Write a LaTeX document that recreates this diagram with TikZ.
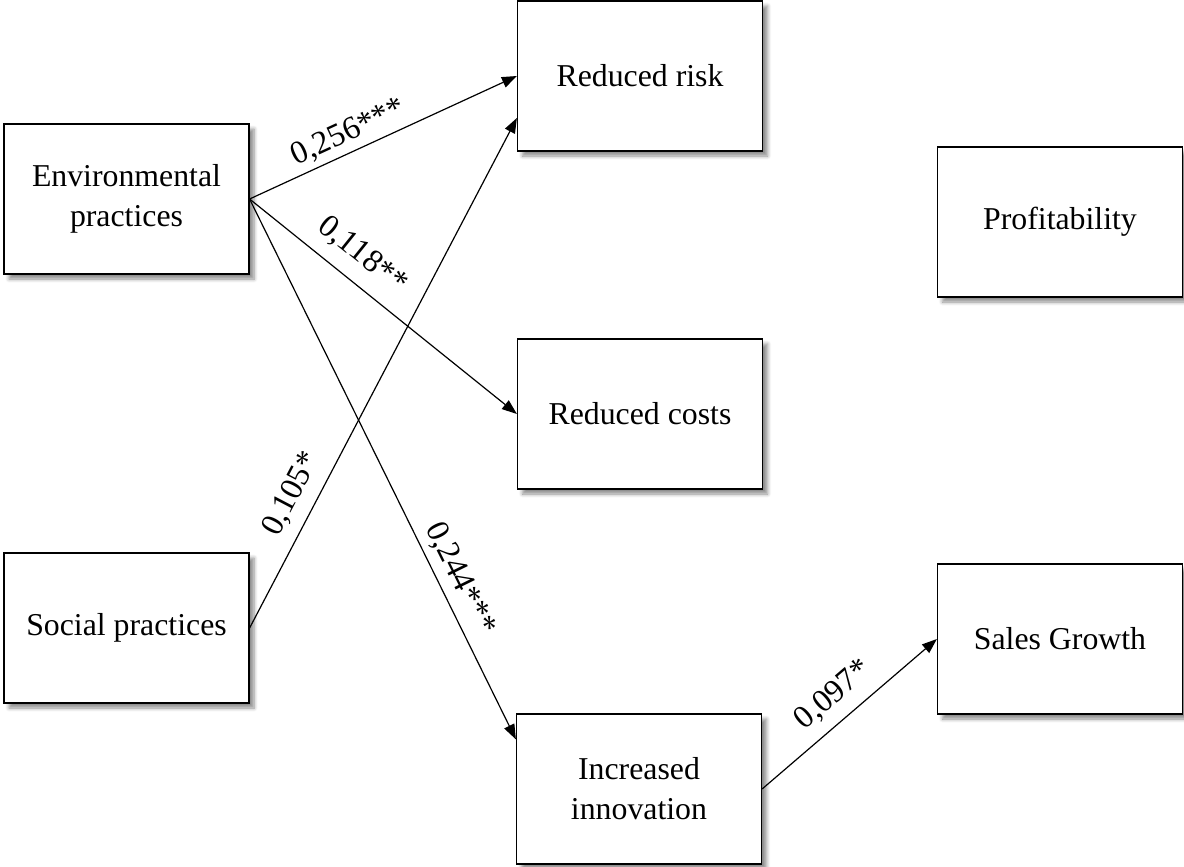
\documentclass[tikz,border=0pt]{standalone}
\usepackage{fontspec}
\setmainfont{Liberation Serif}
\usetikzlibrary{arrows.meta,shadows.blur}

\begin{document}
\begin{tikzpicture}[
    x=0.5pt, y=-0.5pt,
    box/.style={
        draw, line width=0.6pt, fill=white, align=center,
        minimum width=122.5pt, minimum height=75pt, inner sep=0pt,
        font=\fontsize{15.9}{20}\selectfont,
        blur shadow={shadow xshift=2.5pt, shadow yshift=-2.5pt, shadow blur steps=6, shadow opacity=45}
    },
    arrow/.style={-{Triangle[length=7.5pt, width=5.5pt]}, line width=0.6pt},
    coef/.style={sloped, inner sep=1.5pt, font=\fontsize{16.2}{20}\selectfont}
]
  \useasboundingbox (0,0) rectangle (1184,867);

  % Practices
  \node[box] (env)    at (126.5,199) {Environmental\\practices};
  \node[box] (social) at (126.5,628) {Social practices};

  % Mediators
  \node[box] (risk)   at (640,76)  {Reduced risk};
  \node[box] (costs)  at (640,414) {Reduced costs};
  \node[box] (innov)  at (639,789) {Increased\\innovation};

  % Outcomes
  \node[box] (profit) at (1060,222) {Profitability};
  \node[box] (sales)  at (1060,639) {Sales Growth};

  % Paths with coefficients
  \coordinate (risk in)  at ([yshift=-21pt]risk.west);
  \coordinate (innov in) at ([yshift=-13pt]innov.north west);

  \draw[arrow] (env.east)    -- node[coef, above=1pt, pos=0.40] {0,256***} (risk.west);
  \draw[arrow] (env.east)    -- node[coef, above=5pt, pos=0.36] {0,118**}  (costs.west);
  \draw[arrow] (env.east)    -- node[coef, above=2pt, pos=0.72] {0,244***} (innov in);
  \draw[arrow] (social.east) -- node[coef, above=4pt, pos=0.24] {0,105*}   (risk in);
  \draw[arrow] (innov.east)  -- node[coef, above=4pt, pos=0.50] {0,097*}   (sales.west);
\end{tikzpicture}
\end{document}
